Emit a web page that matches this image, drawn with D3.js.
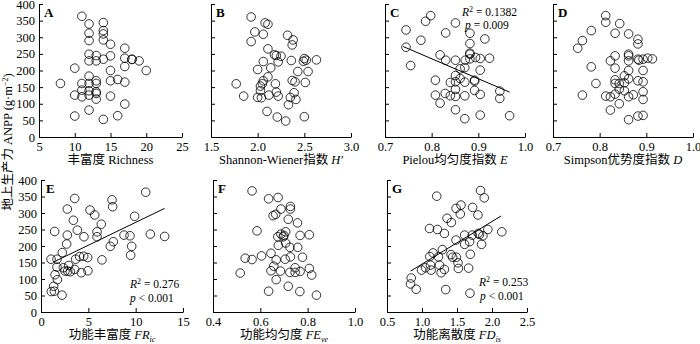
<!DOCTYPE html>
<html>
<head>
<meta charset="utf-8">
<script src="https://cdn.jsdelivr.net/npm/d3@7"></script>
<style>
body { margin: 0; background: #fff; }
svg text { font-family: "Liberation Serif", "Times New Roman", "Noto Sans CJK SC", serif; fill: #000; }
.axis path, .axis line { stroke: #000; stroke-width: 1; }
</style>
</head>
<body>
<div id="figure"></div>
<script>
var w = 700;
var h = 344;

// values
var richness = [11,12,14,12,14,14,14,12,15,17,12,13,15,12,13,14,17,18,18,19,17,10,15,20,12,15,16,17,13,13,8,11,12,11,12,13,13,10,11,12,13,15,17,12,10,16,14];
var anppA = [363,340,344,312,320,310,292,290,279,267,249,245,244,229,229,234,237,234,233,229,212,207,200,200,183,169,173,165,169,161,161,161,161,141,139,136,131,126,121,126,114,123,99,81,63,64,53];

var shannon = [1.93,2.08,2.11,1.97,2.06,2.32,2.38,2.37,1.93,2.11,2.18,2.20,2.25,2.22,2.06,2.36,2.50,2.49,2.52,2.63,2.14,2.00,2.43,2.54,2.11,2.06,2.05,2.03,2.19,2.37,2.40,2.51,1.77,2.03,2.20,2.39,1.85,2.00,2.04,2.12,2.22,2.35,2.41,2.33,2.10,2.21,2.30,2.50];
var anppB = [361,343,339,316,309,306,292,277,287,265,247,245,243,226,227,230,236,228,231,232,208,203,197,197,181,169,160,153,160,170,166,164,160,139,135,133,123,119,118,126,123,119,113,97,77,60,48,61];

var pielou = [0.798,0.787,0.851,0.745,0.830,0.882,0.914,0.777,0.882,0.745,0.882,0.882,0.818,0.894,0.904,0.924,0.830,0.851,0.872,0.882,0.755,0.871,0.861,0.904,0.851,0.861,0.808,0.840,0.851,0.871,0.892,0.892,0.851,0.892,0.946,0.946,0.808,0.829,0.840,0.851,0.871,0.904,0.818,0.851,0.871,0.904,0.967];
var anppC = [365,348,343,322,313,312,295,291,281,270,252,249,247,239,236,237,231,231,231,235,215,209,205,201,185,176,171,164,166,165,171,168,143,140,138,116,126,131,124,122,124,128,102,82,55,66,64];

var simpson = [0.813,0.813,0.843,0.782,0.833,0.862,0.882,0.763,0.882,0.753,0.833,0.862,0.862,0.823,0.862,0.882,0.884,0.893,0.903,0.913,0.782,0.833,0.893,0.862,0.853,0.862,0.833,0.882,0.893,0.792,0.833,0.842,0.853,0.842,0.853,0.833,0.893,0.872,0.893,0.763,0.813,0.823,0.862,0.842,0.823,0.862,0.882,0.893];
var anppD = [365,345,341,320,312,310,294,290,280,267,244,249,244,229,229,234,231,234,237,235,211,207,200,200,184,175,172,169,166,161,161,161,163,144,139,129,136,127,113,126,123,121,121,100,81,52,63,65];

var funcRich = [11.06,3.56,7.50,7.57,2.78,5.18,5.67,9.89,3.42,6.37,3.84,5.92,1.44,2.78,4.54,5.92,8.77,9.40,11.55,13.06,7.64,7.32,9.58,2.71,2.25,9.47,4.08,4.51,4.93,3.66,6.44,1.06,1.69,1.69,2.36,2.92,1.48,1.73,2.54,2.82,3.10,3.56,4.26,4.96,1.34,1.09,1.41,2.22];
var anppE = [363,344,340,319,312,309,294,290,278,266,248,243,244,233,228,228,233,231,236,229,213,199,199,206,180,172,168,169,165,160,158,160,160,136,134,141,113,98,124,124,122,129,119,125,78,62,63,51];

var funcEven = [0.565,0.635,0.675,0.727,0.727,0.687,0.654,0.665,0.718,0.757,0.586,0.707,0.687,0.700,0.697,0.674,0.768,0.807,0.707,0.676,0.725,0.758,0.645,0.605,0.536,0.565,0.667,0.705,0.727,0.778,0.657,0.747,0.807,0.645,0.685,0.725,0.747,0.768,0.817,0.515,0.667,0.635,0.718,0.767,0.837];
var anppF = [367,343,347,320,312,312,292,296,281,270,246,243,236,232,228,228,232,234,209,202,196,196,178,170,163,159,158,160,167,166,139,134,132,125,124,120,120,123,112,118,98,63,78,62,51];

var funcDisp = [1.836,1.211,1.889,1.486,1.557,1.723,1.547,1.799,1.358,1.419,1.107,1.220,1.320,1.941,2.140,1.609,1.718,1.803,1.822,1.870,1.486,1.609,1.680,1.851,1.291,1.159,1.235,1.111,1.415,1.438,1.491,1.690,1.514,1.249,1.121,1.519,1.666,1.130,1.320,1.273,0.993,1.050,0.846,0.836,0.917,1.339,1.685];
var anppG = [368,351,346,314,324,317,297,294,284,271,253,250,238,250,243,233,233,238,235,231,218,205,213,205,189,179,167,168,174,166,166,175,149,142,142,132,133,127,129,119,127,134,103,85,69,68,57];

// fitted lines (end points) and statistics
var fitCx = [0.739, 0.967], fitCy = [272, 135];
var fitEx = [1.37, 13.06], fitEy = [152, 314];
var fitGx = [0.836, 2.13], fitGy = [124, 291];
var statsC = ['0.1382', '= 0.009'];
var statsE = ['0.276', '< 0.001'];
var statsG = ['0.253', '< 0.001'];

var yTicks = [0, 50, 100, 150, 200, 250, 300, 350, 400];
var rows = [[137, 4], [312, 180]];

var panels = [
	{ letter: 'A', xs: richness, ys: anppA, domain: [5, 25], ticks: [5, 10, 15, 20, 25], fmt: 'd', row: 0, x0: 39, x1: 182, yLabels: true,
	  title: [{ t: '丰富度 ' }, { t: 'Richness' }] },
	{ letter: 'B', xs: shannon, ys: anppB, domain: [1.5, 3], ticks: [1.5, 2, 2.5, 3], fmt: '.1f', row: 0, x0: 211, x1: 351,
	  title: [{ t: 'Shannon-Wiener指数 ' }, { t: 'H′', i: 1 }] },
	{ letter: 'C', xs: pielou, ys: anppC, domain: [0.7, 1], ticks: [0.7, 0.8, 0.9, 1], fmt: '.1f', row: 0, x0: 385, x1: 525,
	  title: [{ t: 'Pielou均匀度指数 ' }, { t: 'E', i: 1 }],
	  fit: [fitCx, fitCy], stats: statsC, sx: 462, sy: 16, px: 465, py: 29 },
	{ letter: 'D', xs: simpson, ys: anppD, domain: [0.7, 1], ticks: [0.7, 0.8, 0.9, 1], fmt: '.1f', row: 0, x0: 553, x1: 693,
	  title: [{ t: 'Simpson优势度指数 ' }, { t: 'D', i: 1 }] },
	{ letter: 'E', xs: funcRich, ys: anppE, domain: [0, 15], ticks: [0, 5, 10, 15], fmt: 'd', row: 1, x0: 41, x1: 183, yLabels: true,
	  title: [{ t: '功能丰富度 ' }, { t: 'FR', i: 1 }, { t: 'ic', i: 1, sub: 1 }],
	  fit: [fitEx, fitEy], stats: statsE, sx: 130, sy: 288, px: 130, py: 302 },
	{ letter: 'F', xs: funcEven, ys: anppF, domain: [0.4, 1], ticks: [0.4, 0.6, 0.8, 1], fmt: '.1f', row: 1, x0: 213, x1: 355,
	  title: [{ t: '功能均匀度 ' }, { t: 'FE', i: 1 }, { t: 've', i: 1, sub: 1 }] },
	{ letter: 'G', xs: funcDisp, ys: anppG, domain: [0.5, 2.5], ticks: [0.5, 1, 1.5, 2, 2.5], fmt: '.1f', row: 1, x0: 387, x1: 527,
	  title: [{ t: '功能离散度 ' }, { t: 'FD', i: 1 }, { t: 'is', i: 1, sub: 1 }],
	  fit: [fitGx, fitGy], stats: statsG, sx: 479, sy: 286, px: 480, py: 300 }
];

var svg = d3.select('#figure')
	.append('svg')
	.attr('width', w)
	.attr('height', h);

panels.forEach(function(p){
	var xScale = d3.scaleLinear().domain(p.domain).range([p.x0, p.x1]);
	var yScale = d3.scaleLinear().domain([0, 400]).range(rows[p.row]);
	var g = svg.append('g');

	//Axes
	var xAxis = d3.axisBottom(xScale)
		.tickValues(p.ticks)
		.tickSizeInner(-4)
		.tickSizeOuter(0)
		.tickPadding(5)
		.tickFormat(d3.format(p.fmt));
	g.append('g')
		.classed('axis', true)
		.attr('transform', 'translate(0,' + rows[p.row][0] + ')')
		.call(xAxis)
		.selectAll('text')
		.attr('font-size', 12.5);

	var yAxis = d3.axisLeft(yScale)
		.tickValues(yTicks)
		.tickSizeInner(-4)
		.tickSizeOuter(0)
		.tickPadding(4)
		.tickFormat(p.yLabels ? d3.format('d') : '');
	g.append('g')
		.classed('axis', true)
		.attr('transform', 'translate(' + p.x0 + ',0)')
		.call(yAxis)
		.selectAll('text')
		.attr('font-size', 12.5);

	g.selectAll('.axis .domain').attr('stroke', '#000');

	//Points
	g.append('g')
		.selectAll('circle')
		.data(p.xs)
		.enter()
		.append('circle')
		.attr('cx', function(d){ return xScale(d); })
		.attr('cy', function(d, i){ return yScale(p.ys[i]); })
		.attr('r', 4.3)
		.attr('fill', 'none')
		.attr('stroke', '#000')
		.attr('stroke-width', 0.8);

	//Fit line
	if(p.fit){
		var pts = p.fit[0].map(function(d, i){ return [d, p.fit[1][i]]; });
		g.append('path')
			.attr('d', d3.line()
				.x(function(d){ return xScale(d[0]); })
				.y(function(d){ return yScale(d[1]); })(pts))
			.attr('stroke', '#000')
			.attr('stroke-width', 1)
			.attr('fill', 'none');

		var r2 = g.append('text').attr('x', p.sx).attr('y', p.sy).attr('font-size', 11.5);
		r2.append('tspan').attr('font-style', 'italic').text('R');
		r2.append('tspan').attr('font-size', 8).attr('dy', -4).text('2');
		r2.append('tspan').attr('dy', 4).text(' = ' + p.stats[0]);

		var pv = g.append('text').attr('x', p.px).attr('y', p.py).attr('font-size', 11.5);
		pv.append('tspan').attr('font-style', 'italic').text('p');
		pv.append('tspan').text(' ' + p.stats[1]);
	}

	//Panel letter
	g.append('text')
		.attr('x', p.x0 + 5)
		.attr('y', rows[p.row][1] + 13)
		.attr('font-size', 13)
		.attr('font-weight', 'bold')
		.text(p.letter);

	//Axis title
	var title = g.append('text')
		.attr('x', (p.x0 + p.x1) / 2)
		.attr('y', rows[p.row][0] + 27)
		.attr('text-anchor', 'middle')
		.attr('font-size', 12.5);
	p.title.forEach(function(part){
		var ts = title.append('tspan').text(part.t);
		if(part.i) ts.attr('font-style', 'italic');
		if(part.sub) ts.attr('font-size', 8).attr('dy', 3);
	});
});

//Y label
var yl = svg.append('text')
	.attr('transform', 'translate(12,142) rotate(-90)')
	.attr('text-anchor', 'middle')
	.attr('font-size', 12.5);
yl.append('tspan').text('地上生产力 ANPP (g·m');
yl.append('tspan').attr('font-size', 8).attr('dy', -4).text('−2');
yl.append('tspan').attr('dy', 4).text(')');
</script>
</body>
</html>
